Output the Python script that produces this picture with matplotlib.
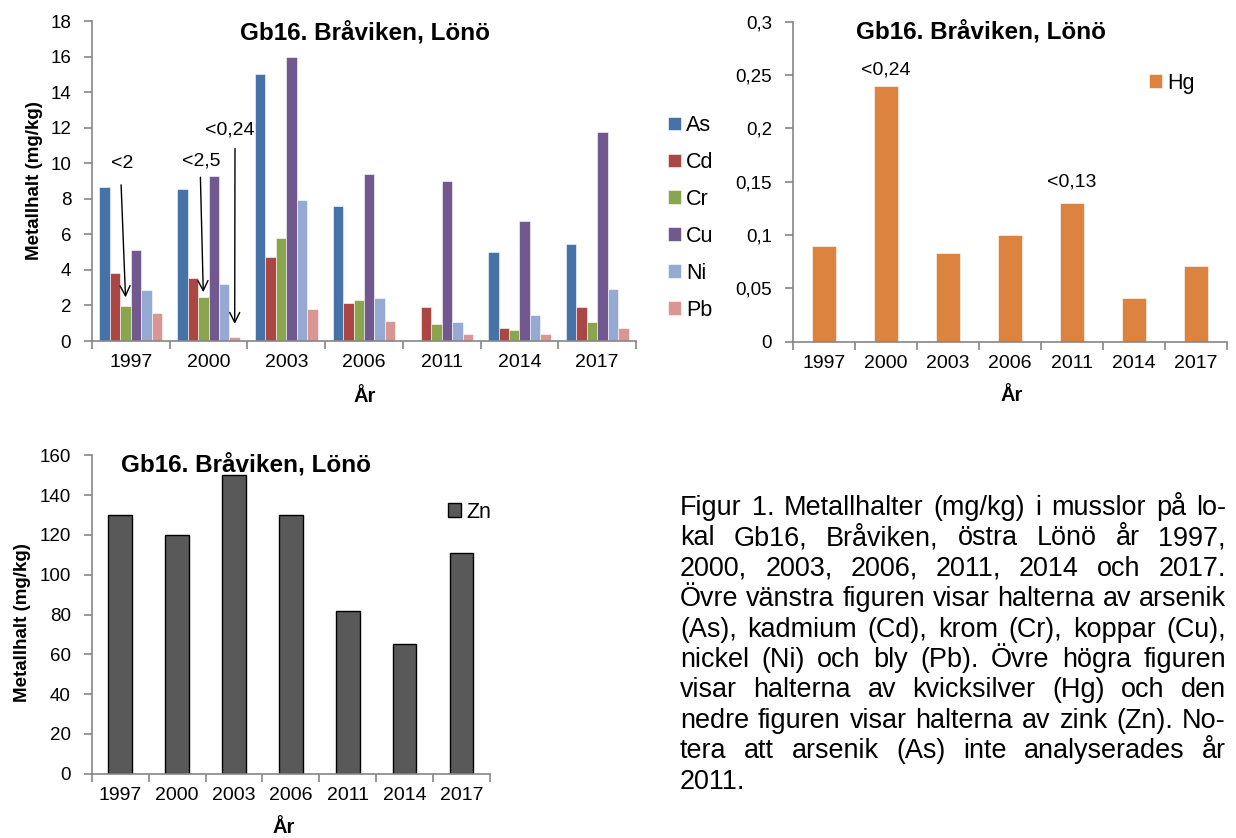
import numpy as np
import matplotlib
matplotlib.use("Agg")
import matplotlib.pyplot as plt

plt.rcParams['font.family'] = ['Liberation Sans', 'DejaVu Sans']

# ── data ──────────────────────────────────────────────────────────────────────
years  = ['1997', '2000', '2003', '2006', '2011', '2014', '2017']
metals = ['As', 'Cd', 'Cr', 'Cu', 'Ni', 'Pb']
As = [8.65, 8.55, 15.0, 7.6, np.nan, 5.0, 5.45]   # As not analysed 2011
Cd = [3.8, 3.55, 4.75, 2.15, 1.9, 0.75, 1.9]
Cr = [1.95, 2.5, 5.8, 2.3, 0.95, 0.6, 1.05]
Cu = [5.1, 9.3, 16.0, 9.4, 9.0, 6.75, 11.75]
Ni = [2.85, 3.2, 7.95, 2.4, 1.05, 1.45, 2.9]
Pb = [1.6, 0.24, 1.8, 1.1, 0.42, 0.42, 0.75]
Hg = [0.09, 0.24, 0.083, 0.10, 0.13, 0.041, 0.071]
Zn = [130, 120, 150, 130, 82, 65, 111]
hg_ticks = ['0', '0,05', '0,1', '0,15', '0,2', '0,25', '0,3']
title = 'Gb16. Bråviken, Lönö'

metal_colors = ['#4572A7', '#AA4643', '#89A54E', '#71588F', '#95A9D2', '#D99694']
GRAY = '#868686'

caption = [
    "Figur 1. Metallhalter (mg/kg) i musslor på lo-",
    "kal Gb16, Bråviken, östra Lönö år 1997,",
    "2000, 2003, 2006, 2011, 2014 och 2017.",
    "Övre vänstra figuren visar halterna av arsenik",
    "(As), kadmium (Cd), krom (Cr), koppar (Cu),",
    "nickel (Ni) och bly (Pb). Övre högra figuren",
    "visar halterna av kvicksilver (Hg) och den",
    "nedre figuren visar halterna av zink (Zn). No-",
    "tera att arsenik (As) inte analyserades år",
    "2011.",
]

W, H = 1236, 838
fig = plt.figure(figsize=(W / 100, H / 100), dpi=100)


def px_axes(l, r, b, t):
    return fig.add_axes([l / W, 1 - b / H, (r - l) / W, (b - t) / H])


def style_axes(ax, ymax, ystep):
    x = np.arange(len(years))
    ax.set_xlim(-0.5, len(years) - 0.5)
    ax.set_ylim(0, ymax)
    ax.set_yticks(np.arange(0, ymax + ystep / 2, ystep))
    for s in ['top', 'right']:
        ax.spines[s].set_visible(False)
    for s in ['left', 'bottom']:
        ax.spines[s].set_color(GRAY)
        ax.spines[s].set_linewidth(1.2)
    ax.set_xticks(np.arange(-0.5, len(years)), labels=[''] * (len(years) + 1))
    ax.set_xticks(x, labels=years, minor=True)
    ax.tick_params(axis='x', which='major', length=6, color=GRAY, width=1.2)
    ax.tick_params(axis='x', which='minor', length=0, pad=9.5, labelsize=14)
    ax.tick_params(axis='y', length=6, color=GRAY, width=1.2, pad=9, labelsize=13.5)


def add_title(ax, xf, yf):
    ax.text(xf, yf, title, transform=ax.transAxes, ha='center', va='center',
            fontsize=17.5, fontweight='bold')


def add_labels(ax, xl, yl=None):
    ax.set_xlabel('År', fontsize=14.5, fontweight='bold', va='center')
    ax.xaxis.set_label_coords(*xl)
    if yl is not None:
        ax.set_ylabel('Metallhalt (mg/kg)', fontsize=13.5, fontweight='bold', va='center')
        ax.yaxis.set_label_coords(*yl)


leg_kw = dict(bbox_transform=fig.transFigure, frameon=False, fontsize=15.5,
              handlelength=0.6, handleheight=0.6, handletextpad=0.25,
              borderaxespad=0, borderpad=0)

# ── top left: As, Cd, Cr, Cu, Ni, Pb ─────────────────────────────────────────
ax1 = px_axes(92, 636, 341, 21)
x = np.arange(len(years))
bw = 0.1345
for i, (name, vals) in enumerate(zip(metals, [As, Cd, Cr, Cu, Ni, Pb])):
    ax1.bar(x + (i - 2.5) * bw, vals, bw, color=metal_colors[i],
            edgecolor='white', linewidth=0.4, label=name)
style_axes(ax1, 18, 2)
add_title(ax1, 0.502, 0.9625)
add_labels(ax1, (0.501, -0.172), (-0.105, 0.5))
ax1.legend(loc='upper left', bbox_to_anchor=(668 / W, 1 - 115 / H),
           labelspacing=0.74, **leg_kw)

# "<" annotations with arrows
arrow = dict(arrowstyle='->', color='black', lw=1.0, mutation_scale=18)
notes = [('<2', -0.114, 10.0, -0.127, 8.94, 0 + (2 - 2.5) * bw, 2.3),
         ('<2,5', 0.903, 10.12, 0.894, 9.37, 1 + (2 - 2.5) * bw, 2.59),
         ('<0,24', 1.276, 11.87, 1.34, 10.98, 1 + (5 - 2.5) * bw, 0.8)]
for txt, tx, ty, sx, sy, ex, ey in notes:
    ax1.text(tx, ty, txt, ha='center', va='center', fontsize=14)
    ax1.annotate('', xy=(ex, ey), xytext=(sx, sy), arrowprops=arrow)

# ── top right: Hg ────────────────────────────────────────────────────────────
ax2 = px_axes(793, 1227, 341.7, 21.7)
ax2.bar(x, Hg, 0.4, color='#DC843F', edgecolor='white', linewidth=0.4, label='Hg')
style_axes(ax2, 0.3, 0.05)
ax2.set_yticklabels(hg_ticks)
add_title(ax2, 0.433, 0.969)
add_labels(ax2, (0.504, -0.167))
ax2.text(1, Hg[1] + 0.0147, '<0,24', ha='center', va='center', fontsize=14)
ax2.text(4, Hg[4] + 0.02, '<0,13', ha='center', va='center', fontsize=14)
ax2.legend(loc='center left', bbox_to_anchor=(1149 / W, 1 - 83 / H), **leg_kw)

# ── bottom: Zn ───────────────────────────────────────────────────────────────
ax3 = px_axes(91.7, 490, 773.7, 455.3)
ax3.bar(x, Zn, 0.415, color='#595959', edgecolor='black', linewidth=1.0, label='Zn')
style_axes(ax3, 160, 20)
add_title(ax3, 0.387, 0.9695)
add_labels(ax3, (0.483, -0.17), (-0.1725, 0.475))
ax3.legend(loc='center left', bbox_to_anchor=(448 / W, 1 - 512 / H), **leg_kw)

# ── caption, justified ───────────────────────────────────────────────────────
left, right = 680, 1226
renderer = fig.canvas.get_renderer()


def text_width(s, size):
    t = fig.text(0, 0, s, fontsize=size)
    w = t.get_window_extent(renderer).width
    t.remove()
    return w


size = 16 * (right - left) / text_width(caption[3], 16)
for k, line in enumerate(caption):
    yb = 1 - (515 + k * 30.4) / H
    words = line.split(' ')
    if k == len(caption) - 1:
        fig.text(left / W, yb, line, fontsize=size, va='baseline')
        continue
    widths = [text_width(w, size) for w in words]
    gap = (right - left - sum(widths)) / (len(words) - 1)
    xp = left
    for w, wd in zip(words, widths):
        fig.text(xp / W, yb, w, fontsize=size, va='baseline')
        xp += wd + gap

fig.savefig('out.png', dpi=100)
